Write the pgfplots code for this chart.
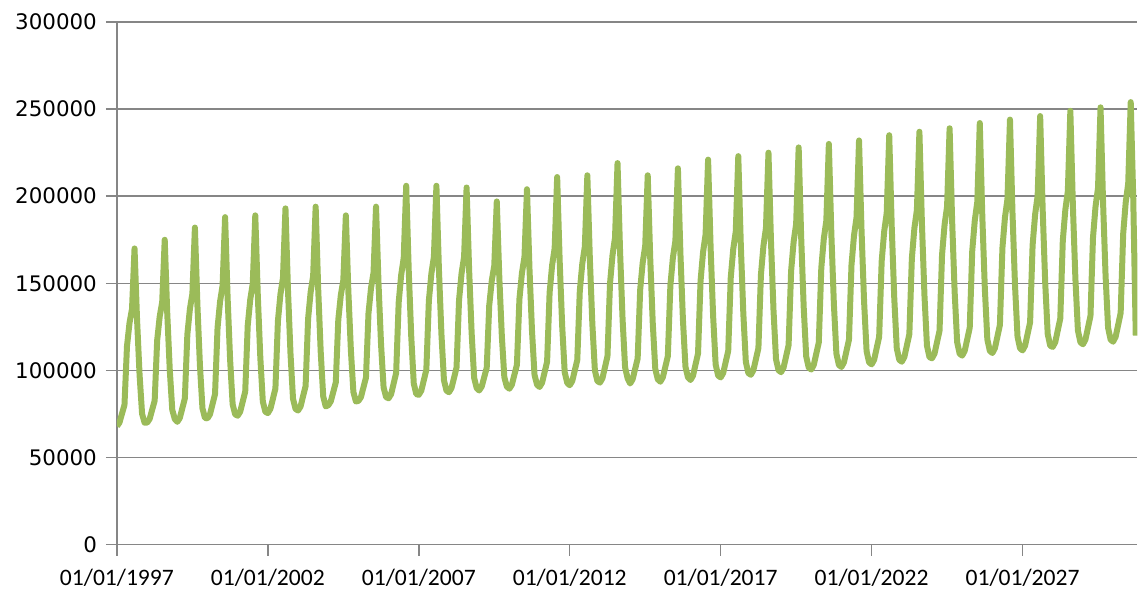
\documentclass[border=0pt]{standalone}
\usepackage{pgfplots}
\pgfplotsset{compat=1.18}
\usepackage{pgfplotstable}
\usepackage{fontspec}
\setmainfont{Carlito}
\newfontfamily\dejavu{DejaVu Sans}
\definecolor{linegreen}{RGB}{155,187,89}
\definecolor{gridgray}{RGB}{134,134,134}
\pgfplotstableread[row sep=\\]{
v\\
68000\\70000\\75100\\80200\\113900\\127200\\135300\\170000\\129200\\97600\\75100\\70000\\
70000\\72100\\77400\\82600\\117300\\130900\\139300\\175000\\133000\\100500\\77400\\72100\\
70500\\72700\\78300\\83900\\120700\\135200\\144100\\182000\\137400\\102800\\78300\\72700\\
72500\\74800\\80600\\86400\\124500\\139500\\148700\\188000\\141800\\106000\\80600\\74800\\
74000\\76300\\82100\\87800\\125800\\140700\\149900\\189000\\143000\\107400\\82100\\76300\\
75500\\77900\\83700\\89600\\128400\\143700\\153100\\193000\\146000\\109600\\83700\\77900\\
77000\\79300\\85200\\91000\\129700\\144900\\154200\\194000\\147200\\110900\\85200\\79300\\
80000\\82200\\87600\\93100\\129100\\143200\\151900\\189000\\145400\\111600\\87600\\82200\\
82500\\84700\\90300\\95900\\132700\\147200\\156100\\194000\\149400\\114800\\90300\\84700\\
84000\\86400\\92500\\98600\\138900\\154800\\164500\\206000\\157200\\119400\\92500\\86400\\
86000\\88400\\94400\\100400\\140000\\155600\\165200\\206000\\158000\\120800\\94400\\88400\\
87500\\89900\\95700\\101600\\140400\\155700\\165100\\205000\\158000\\121600\\95700\\89900\\
88500\\90700\\96100\\101500\\137300\\151400\\160100\\197000\\153600\\120000\\96100\\90700\\
89500\\91800\\97500\\103200\\141000\\155900\\165100\\204000\\158200\\122700\\97500\\91800\\
90500\\92900\\98900\\105000\\144700\\160400\\170000\\211000\\162800\\125400\\98900\\92900\\
91500\\93900\\99900\\106000\\145700\\161400\\171000\\212000\\163800\\126400\\99900\\93900\\
93000\\95500\\101800\\108100\\149700\\166100\\176200\\219000\\168600\\129500\\101800\\95500\\
92500\\94900\\100900\\106800\\146300\\161800\\171400\\212000\\164200\\127200\\100900\\94900\\
93500\\96000\\102100\\108200\\148600\\164600\\174400\\216000\\167000\\129000\\102100\\96000\\
94500\\97000\\103400\\109700\\151400\\167900\\178000\\221000\\170400\\131200\\103400\\97000\\
96000\\98500\\104900\\111200\\153200\\169700\\179800\\223000\\172200\\132800\\104900\\98500\\
97500\\100100\\106400\\112800\\154900\\171500\\181700\\225000\\174000\\134500\\106400\\100100\\
99000\\101600\\108000\\114500\\157100\\173800\\184100\\228000\\176400\\136400\\108000\\101600\\
100500\\103100\\109600\\116000\\158800\\175600\\186000\\230000\\178200\\138100\\109600\\103100\\
102000\\104600\\111100\\117600\\160500\\177400\\187800\\232000\\180000\\139700\\111100\\104600\\
103500\\106100\\112700\\119300\\162700\\179800\\190300\\235000\\182400\\141600\\112700\\106100\\
105000\\107600\\114200\\120800\\164400\\181600\\192100\\237000\\184200\\143300\\114200\\107600\\
107000\\109600\\116200\\122800\\166400\\183600\\194100\\239000\\186200\\145300\\116200\\109600\\
108500\\111200\\117800\\124500\\168600\\185900\\196600\\242000\\188600\\147200\\117800\\111200\\
110000\\112700\\119400\\126100\\170300\\187700\\198400\\244000\\190400\\148900\\119400\\112700\\
111500\\114200\\120900\\127600\\172000\\189500\\200300\\246000\\192200\\150500\\120900\\114200\\
113500\\116200\\123000\\129800\\174500\\192100\\202900\\249000\\194800\\152800\\123000\\116200\\
115000\\117700\\124500\\131300\\176200\\193900\\204800\\251000\\196600\\154400\\124500\\117700\\
116500\\119300\\126100\\133000\\178400\\196300\\207300\\254000\\199000\\120000\\
}\series
\begin{document}
\begin{tikzpicture}
\begin{axis}[
  scale only axis,
  width=510.5pt, height=261.5pt,
  xmin=0, xmax=405.6, ymin=0, ymax=300000,
  axis x line*=bottom, axis y line*=left,
  axis line style={-, draw=gridgray, line width=0.75pt},
  tick align=outside,
  major tick length=5.5pt,
  tick style={draw=gridgray, line width=0.75pt},
  xtick={0,60,120,180,240,300,360},
  xticklabels={01/01/1997,01/01/2002,01/01/2007,01/01/2012,01/01/2017,01/01/2022,01/01/2027},
  ytick={0,50000,100000,150000,200000,250000,300000},
  yticklabels={0,50000,100000,150000,200000,250000,300000},
  scaled y ticks=false,
  xticklabel style={font=\fontsize{11.8}{14}\selectfont, yshift=-3pt},
  yticklabel style={font=\dejavu\fontsize{10.7}{13}\selectfont, xshift=-1pt},
  ymajorgrids,
  major grid style={draw=gridgray, line width=0.75pt},
]
\addplot[color=linegreen, line width=3pt, line join=round] table[x expr=\coordindex, y=v] {\series};
\end{axis}
\path ([xshift=-58.5pt,yshift=-25pt]current axis.south west) rectangle ([yshift=11pt]current axis.north east);
\end{tikzpicture}
\end{document}
